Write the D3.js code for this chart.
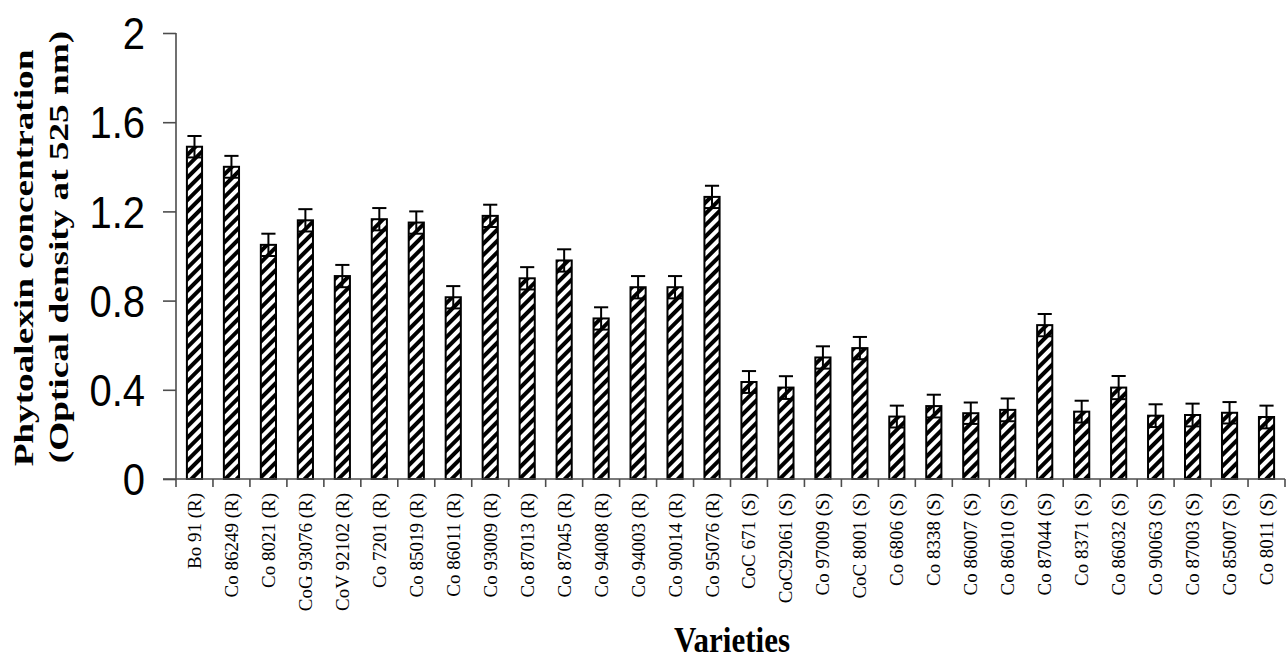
<!DOCTYPE html>
<html>
<head>
<meta charset="utf-8">
<script src="https://cdn.jsdelivr.net/npm/d3@7"></script>
<style>
  body { margin: 0; background: #fff; }
  svg { display: block; }
</style>
</head>
<body>
<script>
// varieties, R = resistant, S = susceptible
const varieties = ["Bo 91 (R)", "Co 86249 (R)", "Co 8021 (R)", "CoG 93076 (R)", "CoV 92102 (R)",
    "Co 7201 (R)", "Co 85019 (R)", "Co 86011 (R)", "Co 93009 (R)", "Co 87013 (R)", "Co 87045 (R)",
    "Co 94008 (R)", "Co 94003 (R)", "Co 90014 (R)", "Co 95076 (R)", "CoC 671 (S)", "CoC92061 (S)",
    "Co 97009 (S)", "CoC 8001 (S)", "Co 6806 (S)", "Co 8338 (S)", "Co 86007 (S)", "Co 86010 (S)",
    "Co 87044 (S)", "Co 8371 (S)", "Co 86032 (S)", "Co 90063 (S)", "Co 87003 (S)", "Co 85007 (S)",
    "Co 8011 (S)"];

// optical density at 525 nm
const density = [1.49, 1.40, 1.05, 1.16, 0.91, 1.165, 1.15, 0.815, 1.18, 0.90, 0.98,
    0.72, 0.86, 0.86, 1.265, 0.435, 0.41, 0.545, 0.587, 0.28, 0.327, 0.295, 0.31,
    0.69, 0.302, 0.41, 0.284, 0.287, 0.297, 0.278];

// standard error (+/-)
const stdErr = [0.048, 0.049, 0.05, 0.05, 0.05, 0.05, 0.05, 0.05, 0.05, 0.05, 0.05,
    0.05, 0.05, 0.05, 0.05, 0.049, 0.051, 0.05, 0.05, 0.049, 0.051, 0.048, 0.051,
    0.05, 0.049, 0.052, 0.051, 0.051, 0.048, 0.051];

const yTicks = [0, 0.4, 0.8, 1.2, 1.6, 2];

const width = 1286, height = 661;
const plotLeft = 176, plotRight = 1285, plotTop = 33, plotBottom = 479;

const svg = d3.select("body").append("svg")
    .attr("width", width)
    .attr("height", height);

// diagonal hatch like the excel fill
const defs = svg.append("defs");
const pat = defs.append("pattern")
    .attr("id", "hatch")
    .attr("patternUnits", "userSpaceOnUse")
    .attr("width", 8)
    .attr("height", 8)
    .attr("patternTransform", "rotate(45)");
pat.append("rect").attr("width", 8).attr("height", 8).attr("fill", "#fff");
pat.append("rect").attr("width", 4).attr("height", 8).attr("fill", "#000");

const x = d3.scaleBand()
    .domain(varieties)
    .range([plotLeft, plotRight])
    .paddingInner(0.59)
    .paddingOuter(0.295);

const y = d3.scaleLinear()
    .domain([0, 2])
    .range([plotBottom, plotTop]);

const axisColor = "#4d4d4d";

// bars
svg.append("g")
    .selectAll("rect")
    .data(varieties)
    .join("rect")
    .attr("x", d => x(d))
    .attr("y", (d, i) => y(density[i]))
    .attr("width", x.bandwidth())
    .attr("height", (d, i) => y(0) - y(density[i]))
    .attr("fill", "url(#hatch)")
    .attr("stroke", "#000")
    .attr("stroke-width", 2);

// error bars (both directions, lower cap falls inside the bar)
const eb = svg.append("g")
    .attr("stroke", "#000")
    .attr("stroke-width", 2)
    .selectAll("g")
    .data(varieties)
    .join("g");
const cx = d => x(d) + x.bandwidth() / 2;
const capHalf = x.bandwidth() / 2 - 0.5;
eb.append("line")
    .attr("x1", cx).attr("x2", cx)
    .attr("y1", (d, i) => y(density[i] - stdErr[i]))
    .attr("y2", (d, i) => y(density[i] + stdErr[i]));
eb.append("line")
    .attr("x1", d => cx(d) - capHalf).attr("x2", d => cx(d) + capHalf)
    .attr("y1", (d, i) => y(density[i] + stdErr[i]))
    .attr("y2", (d, i) => y(density[i] + stdErr[i]));
eb.append("line")
    .attr("x1", d => cx(d) - capHalf).attr("x2", d => cx(d) + capHalf)
    .attr("y1", (d, i) => y(density[i] - stdErr[i]))
    .attr("y2", (d, i) => y(density[i] - stdErr[i]));

// y axis
const yAxis = svg.append("g")
    .attr("transform", `translate(${plotLeft},0)`)
    .call(d3.axisLeft(y).tickValues(yTicks).tickSize(13).tickFormat(""));
yAxis.select(".domain").attr("stroke", axisColor).attr("stroke-width", 1.6).attr("d", `M0,${plotTop}V${plotBottom}`);
yAxis.selectAll(".tick line").attr("stroke", axisColor).attr("stroke-width", 1.6);

// tick labels are a bit taller than wide in the original
svg.append("g")
    .selectAll("text")
    .data(yTicks)
    .join("text")
    .attr("transform", d => `translate(145,${y(d)}) scale(1,1.12)`)
    .attr("dy", "0.36em")
    .attr("text-anchor", "end")
    .attr("font-family", "'Liberation Sans', Arial, sans-serif")
    .attr("font-size", 40)
    .attr("fill", "#000")
    .text(d => d3.format("~g")(d));

// x axis, ticks at category boundaries
const bounds = d3.range(varieties.length + 1).map(i => plotLeft + i * x.step());
const xAxis = svg.append("g");
xAxis.append("line")
    .attr("x1", plotLeft - 13).attr("x2", plotRight)
    .attr("y1", plotBottom).attr("y2", plotBottom)
    .attr("stroke", axisColor).attr("stroke-width", 1.6);
xAxis.selectAll(".xt")
    .data(bounds)
    .join("line")
    .attr("class", "xt")
    .attr("x1", d => d).attr("x2", d => d)
    .attr("y1", plotBottom).attr("y2", plotBottom + 8)
    .attr("stroke", axisColor).attr("stroke-width", 1.6);

svg.append("g")
    .selectAll("text")
    .data(varieties)
    .join("text")
    .attr("transform", d => `translate(${cx(d) + 6.5},493) rotate(-90)`)
    .attr("text-anchor", "end")
    .attr("font-family", "'Liberation Serif', 'Times New Roman', serif")
    .attr("font-size", 19)
    .attr("fill", "#000")
    .text(d => d);

// axis titles
const serif = "'Liberation Serif', 'Times New Roman', serif";
svg.append("text")
    .attr("transform", "translate(33,258) rotate(-90) scale(1.33,1)")
    .attr("text-anchor", "middle")
    .attr("font-family", serif)
    .attr("font-weight", "bold")
    .attr("font-size", 28)
    .text("Phytoalexin concentration");
svg.append("text")
    .attr("transform", "translate(68,247) rotate(-90) scale(1.33,1)")
    .attr("text-anchor", "middle")
    .attr("font-family", serif)
    .attr("font-weight", "bold")
    .attr("font-size", 28)
    .text("(Optical density at 525 nm)");
svg.append("text")
    .attr("transform", "translate(732,652) scale(1,1.17)")
    .attr("text-anchor", "middle")
    .attr("font-family", serif)
    .attr("font-weight", "bold")
    .attr("font-size", 31)
    .text("Varieties");
</script>
</body>
</html>
